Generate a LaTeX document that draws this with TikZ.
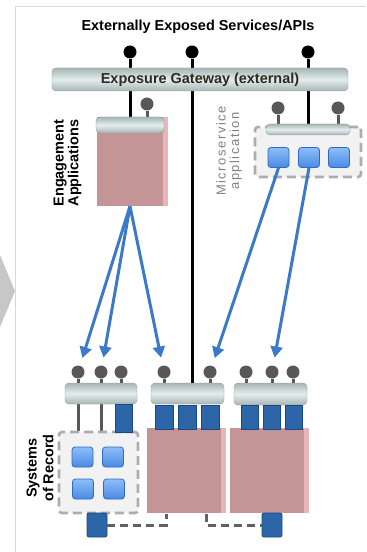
\documentclass[tikz,border=0pt]{standalone}
\usepackage{fontspec}
\setmainfont{Liberation Sans}
\newfontfamily\msfont[LetterSpace=12]{Liberation Sans}
\usetikzlibrary{arrows.meta,positioning,calc,backgrounds}
\definecolor{pinkbody}{HTML}{C39597}
\definecolor{pinkedge}{HTML}{E7B6B7}
\definecolor{steel}{HTML}{A7B5B5}
\definecolor{steellight}{HTML}{E4EDED}
\definecolor{tilelight}{HTML}{8EBEF8}
\definecolor{tiledark}{HTML}{4A8AE4}
\definecolor{tileedge}{HTML}{2E6AC2}
\definecolor{pinblue}{HTML}{2D66A8}
\definecolor{pinedge}{HTML}{1B4882}
\definecolor{flowblue}{HTML}{3B79C9}
\definecolor{knob}{HTML}{585858}
\definecolor{gwtext}{HTML}{2E2A20}
\tikzset{
  gbar/.style={rounded corners=4bp,top color=steel,bottom color=steel,middle color=steellight,
               draw=steel!85!black,line width=0.4bp,inner sep=0pt},
  pink/.style={fill=pinkbody,inner sep=0pt},
  dbox/.style={draw=black!32,fill=black!5,line width=2.6bp,dash pattern=on 9bp off 5bp,
               rounded corners=3bp,inner sep=0pt},
  tile/.style={rounded corners=3bp,top color=tilelight,bottom color=tiledark,draw=tileedge,
               line width=0.8bp,minimum width=21bp,minimum height=20bp,inner sep=0pt},
  pin/.style={fill=pinblue,draw=pinedge,line width=0.8bp,minimum width=17bp,
              minimum height=24bp,inner sep=0pt},
  ball/.style={circle,fill=black,minimum size=13bp,inner sep=0pt},
  kball/.style={ball,fill=knob},
  stem/.style={line width=3bp,black},
  kstem/.style={line width=3bp,knob},
  flow/.style={-{Triangle[length=11bp,width=12bp]},line width=3bp,flowblue,shorten >=8bp},
  link/.style={line width=3bp,black!62,dash pattern=on 8bp off 5bp},
  lbl/.style={font=\fontsize{14.5}{15}\selectfont\bfseries,align=center,inner sep=0pt},
  lbl2/.style={lbl,font=\fontsize{14.5}{17}\selectfont\bfseries}
}

\begin{document}
\begin{tikzpicture}[x=1bp,y=-1bp]
  \useasboundingbox (0,0) rectangle (366,552);
  % page edge and the chevron on the left
  \draw[black!15,line width=1bp] (15.5,552) -- (15.5,7) -- (366,7);
  \fill[black!22] (0,255) -- (15,291) -- (0,327) -- cycle;

  \node[font=\fontsize{14.5}{17}\selectfont\bfseries] (title) at (198,27) {Externally Exposed Services/APIs};
  \node[gbar,minimum width=296bp,minimum height=23bp,text=gwtext,
        font=\fontsize{14.5}{17}\selectfont\bfseries] (gw) at (200,79.5) {Exposure Gateway (external)};
  \foreach \x/\n in {130/1,192/2,308/3} \node[ball] (t\n) at (\x,52) {};

  % engagement applications
  \node[pink,minimum width=66bp,minimum height=89bp] (eng) at (130,161.5) {};
  \fill[pinkedge] (eng.north east) rectangle ([xshift=5bp]eng.south east);
  \node[gbar,minimum width=68bp,minimum height=16bp] (engbar) at (130,125) {};
  \node[kball] (e1) at (147,104) {};
  \node[lbl,rotate=90] (englbl) at (67.5,163) {Engagement\\Applications};

  % microservice application
  \node[dbox,minimum width=106bp,minimum height=50bp] (msbox) at (308,152) {};
  \node[gbar,minimum width=84bp,minimum height=11bp] (msbar) at (308,129.5) {};
  \foreach \x/\n in {278.5/1,309/2,339/3} \node[tile] (ms\n) at (\x,157.5) {};
  \foreach \x/\n in {278/1,338/2} \node[kball] (m\n) at (\x,108) {};
  \node[align=center,inner sep=0pt,text=black!50,font=\fontsize{13}{13.5}\selectfont\msfont,rotate=90]
        (mslbl) at (229,151) {Microservice\\application};

  % systems of record
  \node[dbox,minimum width=79bp,minimum height=81bp] (sr1) at (98.5,472.5) {};
  \node[tile] (s11) at (82.5,457) {};
  \node[tile] (s12) at (113,457) {};
  \node[tile] (s13) at (83,489) {};
  \node[tile] (s14) at (114,489) {};
  \node[pink,minimum width=74bp,minimum height=85bp] (sr2) at (184,470.5) {};
  \fill[pinkedge] (sr2.north east) rectangle ([xshift=5bp]sr2.south east);
  \node[pink,minimum width=74bp,minimum height=85bp] (sr3) at (267,470.5) {};
  \fill[pinkedge] (sr3.north east) rectangle ([xshift=5bp]sr3.south east);
  \node[lbl2,rotate=90] (srlbl) at (40,468) {Systems\\of Record};

  \node[gbar,minimum width=72bp,minimum height=21bp] (sb1) at (101,393.5) {};
  \node[gbar,minimum width=73bp,minimum height=21bp] (sb2) at (187.5,393.5) {};
  \node[gbar,minimum width=73bp,minimum height=22bp] (sb3) at (270.5,394) {};
  \node[pin,minimum height=28bp] (p13) at (123.5,418) {};
  \foreach \x/\n in {164.5/1,187/2,210.5/3} \node[pin,minimum width=18bp] (p2\n) at (\x,417) {};
  \foreach \x/\n in {250/1,272/2,294/3} \node[pin] (p3\n) at (\x,417) {};
  \foreach \x/\n in {78/1,101/2,121/3} \node[kball] (k1\n) at (\x,372) {};
  \foreach \x/\n in {164/1,210/2} \node[kball] (k2\n) at (\x,372) {};
  \foreach \x/\n in {246/1,272/2,293/3} \node[kball] (k3\n) at (\x,372) {};

  \node[pin,rounded corners=2bp,minimum width=20bp] (db1) at (97,525) {};
  \node[pin,rounded corners=2bp,minimum width=20bp] (db2) at (272,525) {};
  \coordinate (j1) at (166,514);
  \coordinate (j2) at (206,514);
  \draw[link] (db1.east) -| (j1);
  \draw[link] (j2) |- (db2.west);

  \begin{scope}[on background layer]
    \draw[stem] (t1) -- (t1 |- engbar.north);
    \draw[stem] (t2) -- (t2 |- sb2.north);
    \draw[stem] (t3) -- (t3 |- msbar.north);
    \draw[kstem] (e1) -- (e1 |- engbar.north);
    \foreach \b in {m1,m2} \draw[kstem] (\b) -- (\b |- msbar.north);
    \foreach \b in {k11,k12,k13} \draw[kstem] (\b) -- (\b |- sb1.north);
    \foreach \b in {k21,k22} \draw[kstem] (\b) -- (\b |- sb2.north);
    \foreach \b in {k31,k32,k33} \draw[kstem] (\b) -- (\b |- sb3.north);
    \draw[kstem] (k11 |- sb1.south) -- (k11 |- sr1.north);
    \draw[kstem] (k12 |- sb1.south) -- (k12 |- sr1.north);
  \end{scope}

  \draw[flow] (eng.south) -- (k11);
  \draw[flow] (eng.south) -- (k12);
  \draw[flow] (eng.south) -- (k21);
  \draw[flow] (ms1.south) -- (k22);
  \draw[flow] (ms2.south) -- (k32);
\end{tikzpicture}
\end{document}
